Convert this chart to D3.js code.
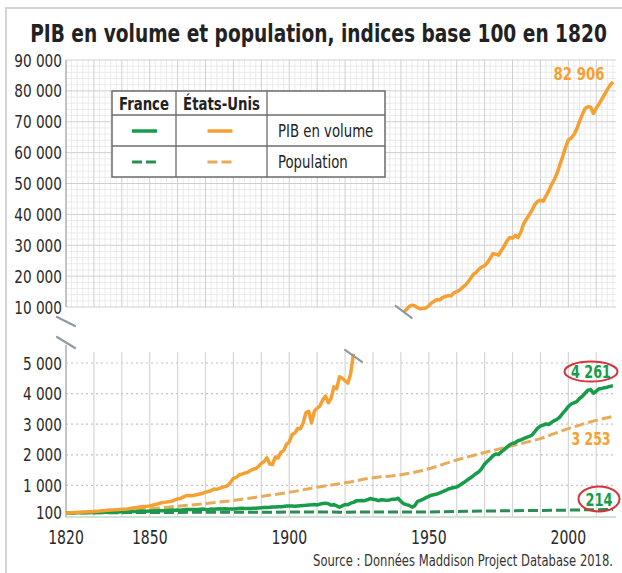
<!DOCTYPE html>
<html><head><meta charset="utf-8">
<script src="https://cdn.jsdelivr.net/npm/d3@7"></script>
<style>html,body{margin:0;padding:0;background:#fff} svg{display:block}</style>
</head><body><svg id="c" width="622" height="573"></svg>
<script>
// ---------------- DATA ----------------
const title = "PIB en volume et population, indices base 100 en 1820";
const source = "Source : Données Maddison Project Database 2018.";
const legendCols = ["France", "États-Unis"];
const legendRows = ["PIB en volume", "Population"];
const xTicks = [1820, 1850, 1900, 1950, 2000];
const topTicks = [10000, 20000, 30000, 40000, 50000, 60000, 70000, 80000, 90000];
const bottomTicks = [100, 1000, 2000, 3000, 4000, 5000];

// France GDP index, annual, 1820..2016
const frGdpStart = 1820;
const frGdp = [
 100,104,103,102,107,106,109,108,111,112,
 110,111,118,120,121,126,127,129,134,133,
 140,143,142,146,153,149,150,160,152,157,
 163,165,172,170,174,175,182,187,193,190,
 195,191,204,210,212,215,213,212,222,228,
 212,208,232,224,232,236,230,233,232,226,
 232,240,248,250,246,245,248,251,254,262,
 270,276,280,284,296,292,303,302,314,326,
 328,326,322,330,336,342,348,362,366,378,
 362,388,410,420,400,355,370,330,285,330,
 375,365,420,445,495,495,505,500,530,570,
 550,530,500,530,525,510,525,550,545,580,
 480,400,370,345,290,340,480,510,550,600,
 640,680,700,720,755,795,835,885,905,930,
 950,1000,1060,1120,1190,1250,1320,1390,1450,1560,
 1700,1790,1870,1970,2030,2010,2100,2170,2250,2330,
 2370,2400,2460,2490,2530,2570,2600,2650,2760,2870,
 2940,2970,3010,2990,3060,3120,3160,3240,3360,3460,
 3580,3660,3700,3740,3840,3910,4010,4110,4130,4010,
 4080,4160,4170,4190,4210,4235,4261
];
// US GDP index, annual, 1820..1923 (lower panel, up to the break)
const usGdpLowStart = 1820;
const usGdpLow = [
 100,103,108,112,117,123,128,133,137,139,
 148,158,165,175,178,190,198,200,208,215,
 218,224,232,245,260,272,283,300,313,318,
 330,350,378,400,425,445,455,470,485,525,
 560,575,620,660,670,660,680,700,720,740,
 780,800,830,880,870,900,940,960,1000,1100,
 1230,1260,1340,1370,1400,1420,1480,1530,1550,1620,
 1720,1780,1900,1700,1680,1930,1900,2080,2140,2340,
 2420,2660,2710,2860,2850,3040,3380,3420,3040,3430,
 3520,3600,3790,3920,3700,3850,4220,4160,4550,4500,
 4420,4340,4650,5300
];
// US GDP index, annual, 1941..2016 (upper panel, after the break)
const usGdpHighStart = 1941;
const usGdpHigh = [
 8400,9200,10200,10600,10400,9700,9400,9600,9700,
 10400,11300,11900,12400,12300,13100,13400,13700,13600,14600,
 15000,15400,16300,17000,18000,19300,20600,21200,22300,23000,
 23300,24400,25800,27300,27100,26800,28300,29700,31400,32500,
 32300,33200,32500,34300,37000,38500,39900,41400,43200,44200,
 44600,44300,46000,47600,49700,51300,53400,56200,58800,61700,
 64100,64700,65800,67600,70100,72300,74300,74900,74700,72700,
 74400,75800,77300,78900,80500,81900,82906
];
// Population indices
const usPopYears = [1820,1830,1840,1850,1860,1870,1880,1890,1900,1910,1920,1930,1940,1950,1960,1970,1980,1990,2000,2010,2016];
const usPop      = [100,129,171,233,320,405,510,640,775,940,1085,1250,1345,1545,1830,2075,2300,2530,2855,3125,3253];
const frPopYears = [1820,1830,1840,1850,1860,1870,1880,1890,1900,1910,1913,1918,1920,1930,1939,1945,1950,1960,1970,1980,1990,2000,2010,2016];
const frPop      = [100,106,110,115,118,122,120,122,130,132,133,126,125,133,134,128,134,146,162,172,182,192,207,214];

// ---------------- STYLE ----------------
const C = {
  green: "#179c49", greenDash: "#2b8c54",
  orange: "#f5a033", orangeDash: "#e8ab5a",
  red: "#d4343a", text: "#2a2a2a", grid: "#cfcfcf", gridMinor: "#e6e6e6"
};

function fontAvailable(f){
  const c = document.createElement('canvas').getContext('2d');
  const s = '90 000 PIB en volume États';
  let diff = false;
  for (const g of ['monospace','serif']) {
    c.font = '20px ' + g; const a = c.measureText(s).width;
    c.font = '20px "' + f + '", ' + g; const b = c.measureText(s).width;
    if (a !== b) diff = true;
  }
  return diff;
}
let FONT = 'Roboto', SQ = 0.82;
if (fontAvailable('Liberation Sans Narrow')) { FONT = 'Liberation Sans Narrow'; SQ = 1; }
else if (fontAvailable('DejaVu Sans Condensed')) { FONT = 'DejaVu Sans Condensed'; SQ = 0.82; }
else if (fontAvailable('Roboto')) { FONT = 'Roboto'; SQ = 0.82; }
else { FONT = 'Liberation Sans'; SQ = 0.82; }

const svg = d3.select('#c').style('font-family', '"' + FONT + '", sans-serif');

// ---------------- SCALES ----------------
const x = d3.scaleLinear().domain([1820, 2016]).range([66, 613]);
const yTop = d3.scaleLinear().domain([10000, 90000]).range([307, 60]);
const yBot = d3.scaleLinear().domain([0, 5000]).range([516, 363]);
const xEnd = x(2017.1);

// frame
svg.append('line').attr('x1',6).attr('x2',6).attr('y1',8).attr('y2',573).attr('stroke','#d4d4d4').attr('stroke-width',2);
svg.append('line').attr('x1',5).attr('x2',622).attr('y1',8).attr('y2',8).attr('stroke','#d4d4d4').attr('stroke-width',2);

// ---------------- TOP GRID (graph paper) ----------------
const gTop = svg.append('g');
const minorYears = d3.range(1822, 2018, 2).filter(v => v % 10 !== 0);
const majorYears = d3.range(1830, 2017, 10);
gTop.selectAll('.vmin').data(minorYears).join('line')
  .attr('x1', d => x(d)).attr('x2', d => x(d)).attr('y1', yTop(90000)).attr('y2', yTop(10000))
  .attr('stroke', C.gridMinor).attr('stroke-width', 0.8);
const minorVals = d3.range(12000, 90000, 2000).filter(v => v % 10000 !== 0);
gTop.selectAll('.hmin').data(minorVals).join('line')
  .attr('x1', x(1820)).attr('x2', xEnd).attr('y1', d => yTop(d)).attr('y2', d => yTop(d))
  .attr('stroke', C.gridMinor).attr('stroke-width', 0.8);
gTop.selectAll('.vmaj').data(majorYears).join('line')
  .attr('x1', d => x(d)).attr('x2', d => x(d)).attr('y1', yTop(90000)).attr('y2', yTop(10000))
  .attr('stroke', C.grid).attr('stroke-width', 1);
gTop.selectAll('.hmaj').data(topTicks).join('line')
  .attr('x1', x(1820)).attr('x2', xEnd).attr('y1', d => yTop(d)).attr('y2', d => yTop(d))
  .attr('stroke', C.grid).attr('stroke-width', 1);

// ---------------- BOTTOM GRID ----------------
const gBot = svg.append('g');
gBot.selectAll('.bv').data(majorYears).join('line')
  .attr('x1', d => x(d)).attr('x2', d => x(d)).attr('y1', yBot(5000) - 11).attr('y2', yBot(0) + 1)
  .attr('stroke', '#d6d6d6').attr('stroke-width', 1.2);
gBot.selectAll('.bh').data(bottomTicks.filter(d => d >= 1000)).join('line')
  .attr('x1', x(1820)).attr('x2', xEnd).attr('y1', d => yBot(d)).attr('y2', d => yBot(d))
  .attr('stroke', '#c4c4c4').attr('stroke-width', 1.2).attr('stroke-dasharray', '2,3');
gBot.append('line').attr('x1', x(1820)).attr('x2', xEnd).attr('y1', yBot(0) + 1).attr('y2', yBot(0) + 1)
  .attr('stroke', '#bfd8c6').attr('stroke-width', 1.5);

// left axis lines
svg.append('line').attr('x1', 66).attr('x2', 66).attr('y1', yTop(90000)).attr('y2', yTop(10000))
  .attr('stroke', '#b0b0b0').attr('stroke-width', 1.5);
svg.append('line').attr('x1', 66).attr('x2', 66).attr('y1', 345).attr('y2', yBot(0) + 1)
  .attr('stroke', '#b0b0b0').attr('stroke-width', 1.5);

// axis break marks
function breakMark(cx, cy, hx, hy) {
  svg.append('line').attr('x1', cx - hx).attr('y1', cy - hy).attr('x2', cx + hx).attr('y2', cy + hy)
    .attr('stroke', '#8f9aa4').attr('stroke-width', 2.2).attr('stroke-linecap', 'round');
}
breakMark(66, 321.5, 9, 4.5);
breakMark(66, 342.5, 9, 5.5);

// ---------------- LINES ----------------
const seq = (start, arr) => arr.map((v, i) => [start + i, v]);
const zip = (ys, vs) => ys.map((y, i) => [y, vs[i]]);
const lineBot = d3.line().x(d => x(d[0])).y(d => yBot(d[1]));
const lineBotSmooth = d3.line().x(d => x(d[0])).y(d => yBot(d[1])).curve(d3.curveMonotoneX);
const lineTop = d3.line().x(d => x(d[0])).y(d => yTop(d[1]));

svg.append('path').datum(zip(frPopYears, frPop)).attr('d', lineBotSmooth)
  .attr('fill', 'none').attr('stroke', C.greenDash).attr('stroke-width', 3).attr('stroke-dasharray', '10,4');
svg.append('path').datum(zip(usPopYears, usPop)).attr('d', lineBotSmooth)
  .attr('fill', 'none').attr('stroke', C.orangeDash).attr('stroke-width', 3).attr('stroke-dasharray', '10,4');
svg.append('path').datum(seq(frGdpStart, frGdp)).attr('d', lineBot)
  .attr('fill', 'none').attr('stroke', C.green).attr('stroke-width', 3.5).attr('stroke-linejoin', 'round');
svg.append('path').datum(seq(usGdpLowStart, usGdpLow)).attr('d', lineBot)
  .attr('fill', 'none').attr('stroke', C.orange).attr('stroke-width', 3.5).attr('stroke-linejoin', 'round');
svg.append('path').datum(seq(usGdpHighStart, usGdpHigh)).attr('d', lineTop)
  .attr('fill', 'none').attr('stroke', C.orange).attr('stroke-width', 3.5).attr('stroke-linejoin', 'round');

// series break marks
const lowLast = usGdpLow.length - 1;
breakMark(x(usGdpLowStart + lowLast), yBot(usGdpLow[lowLast]) + 2, 8.5, 6);
breakMark(x(usGdpHighStart), yTop(usGdpHigh[0]), 8, 6);

// ---------------- TEXTS ----------------
const allText = [];
function txt(g, s, x0, y0, opts) {
  const t = g.append('text').attr('x', x0).attr('y', y0).text(s)
    .attr('font-size', opts.size).attr('fill', opts.fill || C.text)
    .attr('text-anchor', opts.anchor || 'start')
    .attr('font-weight', opts.weight || 'normal');
  if (opts.len) t.attr('textLength', opts.len).attr('lengthAdjust', 'spacingAndGlyphs');
  else allText.push(t);
  return t;
}
// text horizontally scaled by a transform to a target width
function fitTxt(s, ax, by, target, opts) {
  const g = svg.append('g');
  const t = g.append('text').attr('x', 0).attr('y', 0).text(s)
    .attr('font-size', opts.size).attr('fill', opts.fill || C.text)
    .attr('text-anchor', opts.anchor || 'start')
    .attr('font-weight', opts.weight || 'normal');
  const w = t.node().getComputedTextLength();
  g.attr('transform', `translate(${ax},${by}) scale(${target / w},1)`);
  return t;
}
const fmt = v => d3.format(',')(v).replace(/,/g, ' ');

// title
fitTxt(title, 318.5, 42, 577, {size: 24, weight: 'bold', anchor: 'middle', fill: '#222'});

// y labels
topTicks.forEach(v => txt(svg, fmt(v), 62, yTop(v) + 6.5, {size: 18.5, anchor: 'end'}));
bottomTicks.forEach(v => txt(svg, fmt(v), 62, yBot(v) + 6.5, {size: 18.5, anchor: 'end'}));
// x labels
xTicks.forEach(v => txt(svg, String(v), x(v), 544, {size: 19, anchor: 'middle'}));

// ---------------- LEGEND ----------------
const lg = svg.append('g');
const L = {x0: 112, x1: 176, x2: 267, x3: 385, y0: 91, y1: 115, y2: 146, y3: 177};
lg.append('rect').attr('x', L.x0).attr('y', L.y0).attr('width', L.x3 - L.x0).attr('height', L.y3 - L.y0)
  .attr('fill', '#fff').attr('stroke', '#6b6b6b').attr('stroke-width', 1.5);
[L.x1, L.x2].forEach(xx => lg.append('line').attr('x1', xx).attr('x2', xx).attr('y1', L.y0).attr('y2', L.y3)
  .attr('stroke', '#6b6b6b').attr('stroke-width', 1.3));
[L.y1, L.y2].forEach(yy => lg.append('line').attr('x1', L.x0).attr('x2', L.x3).attr('y1', yy).attr('y2', yy)
  .attr('stroke', '#6b6b6b').attr('stroke-width', 1.3));
txt(lg, legendCols[0], (L.x0 + L.x1) / 2, 110, {size: 18, weight: 'bold', anchor: 'middle', fill: '#222'});
txt(lg, legendCols[1], (L.x1 + L.x2) / 2, 110, {size: 18, weight: 'bold', anchor: 'middle', fill: '#222'});
txt(lg, legendRows[0], 278, 137, {size: 18, fill: '#222'});
txt(lg, legendRows[1], 278, 168, {size: 18, fill: '#222'});
const lgItems = [
  {cx: 144.5, cy: 131, c: C.green, dash: null},
  {cx: 220, cy: 131, c: C.orange, dash: null},
  {cx: 144.5, cy: 162, c: C.greenDash, dash: '10,4'},
  {cx: 220, cy: 162, c: C.orangeDash, dash: '10,4'}
];
lgItems.forEach(d => {
  const l = lg.append('line').attr('x1', d.cx - 12.5).attr('x2', d.cx + 12.5).attr('y1', d.cy).attr('y2', d.cy)
    .attr('stroke', d.c).attr('stroke-width', 3.5);
  if (d.dash) l.attr('stroke-dasharray', d.dash).attr('stroke-width', 3);
});

// ---------------- ANNOTATIONS ----------------
const usLast = usGdpHigh[usGdpHigh.length - 1];
const frLast = frGdp[frGdp.length - 1];
const usPopLast = usPop[usPop.length - 1];
const frPopLast = frPop[frPop.length - 1];
txt(svg, fmt(usLast), x(2016) - 34, yTop(usLast) - 2, {size: 18, weight: 'bold', anchor: 'middle', fill: C.orange, len: 51});
svg.append('ellipse').attr('cx', x(2016) - 22).attr('cy', yBot(frLast) - 14).attr('rx', 26.5).attr('ry', 10)
  .attr('fill', 'none').attr('stroke', C.red).attr('stroke-width', 2);
txt(svg, fmt(frLast), x(2016) - 22, yBot(frLast) - 7.5, {size: 18, weight: 'bold', anchor: 'middle', fill: C.green, len: 40});
txt(svg, fmt(usPopLast), x(2016) - 22, yBot(usPopLast) + 28.5, {size: 18, weight: 'bold', anchor: 'middle', fill: C.orange, len: 39});
svg.append('ellipse').attr('cx', x(2016) - 14).attr('cy', yBot(frPopLast) - 10.5).attr('rx', 20.5).attr('ry', 12.5)
  .attr('fill', 'none').attr('stroke', C.red).attr('stroke-width', 2);
txt(svg, fmt(frPopLast), x(2016) - 14, yBot(frPopLast) - 3.5, {size: 18, weight: 'bold', anchor: 'middle', fill: C.green, len: 27});

// source
fitTxt(source, 613, 566, 300, {size: 15, anchor: 'end', fill: '#333'});

// condense texts if narrow font not available
if (SQ < 1) {
  allText.forEach(t => {
    const w = t.node().getComputedTextLength();
    t.attr('textLength', w * SQ).attr('lengthAdjust', 'spacingAndGlyphs');
  });
}
</script></body></html>
